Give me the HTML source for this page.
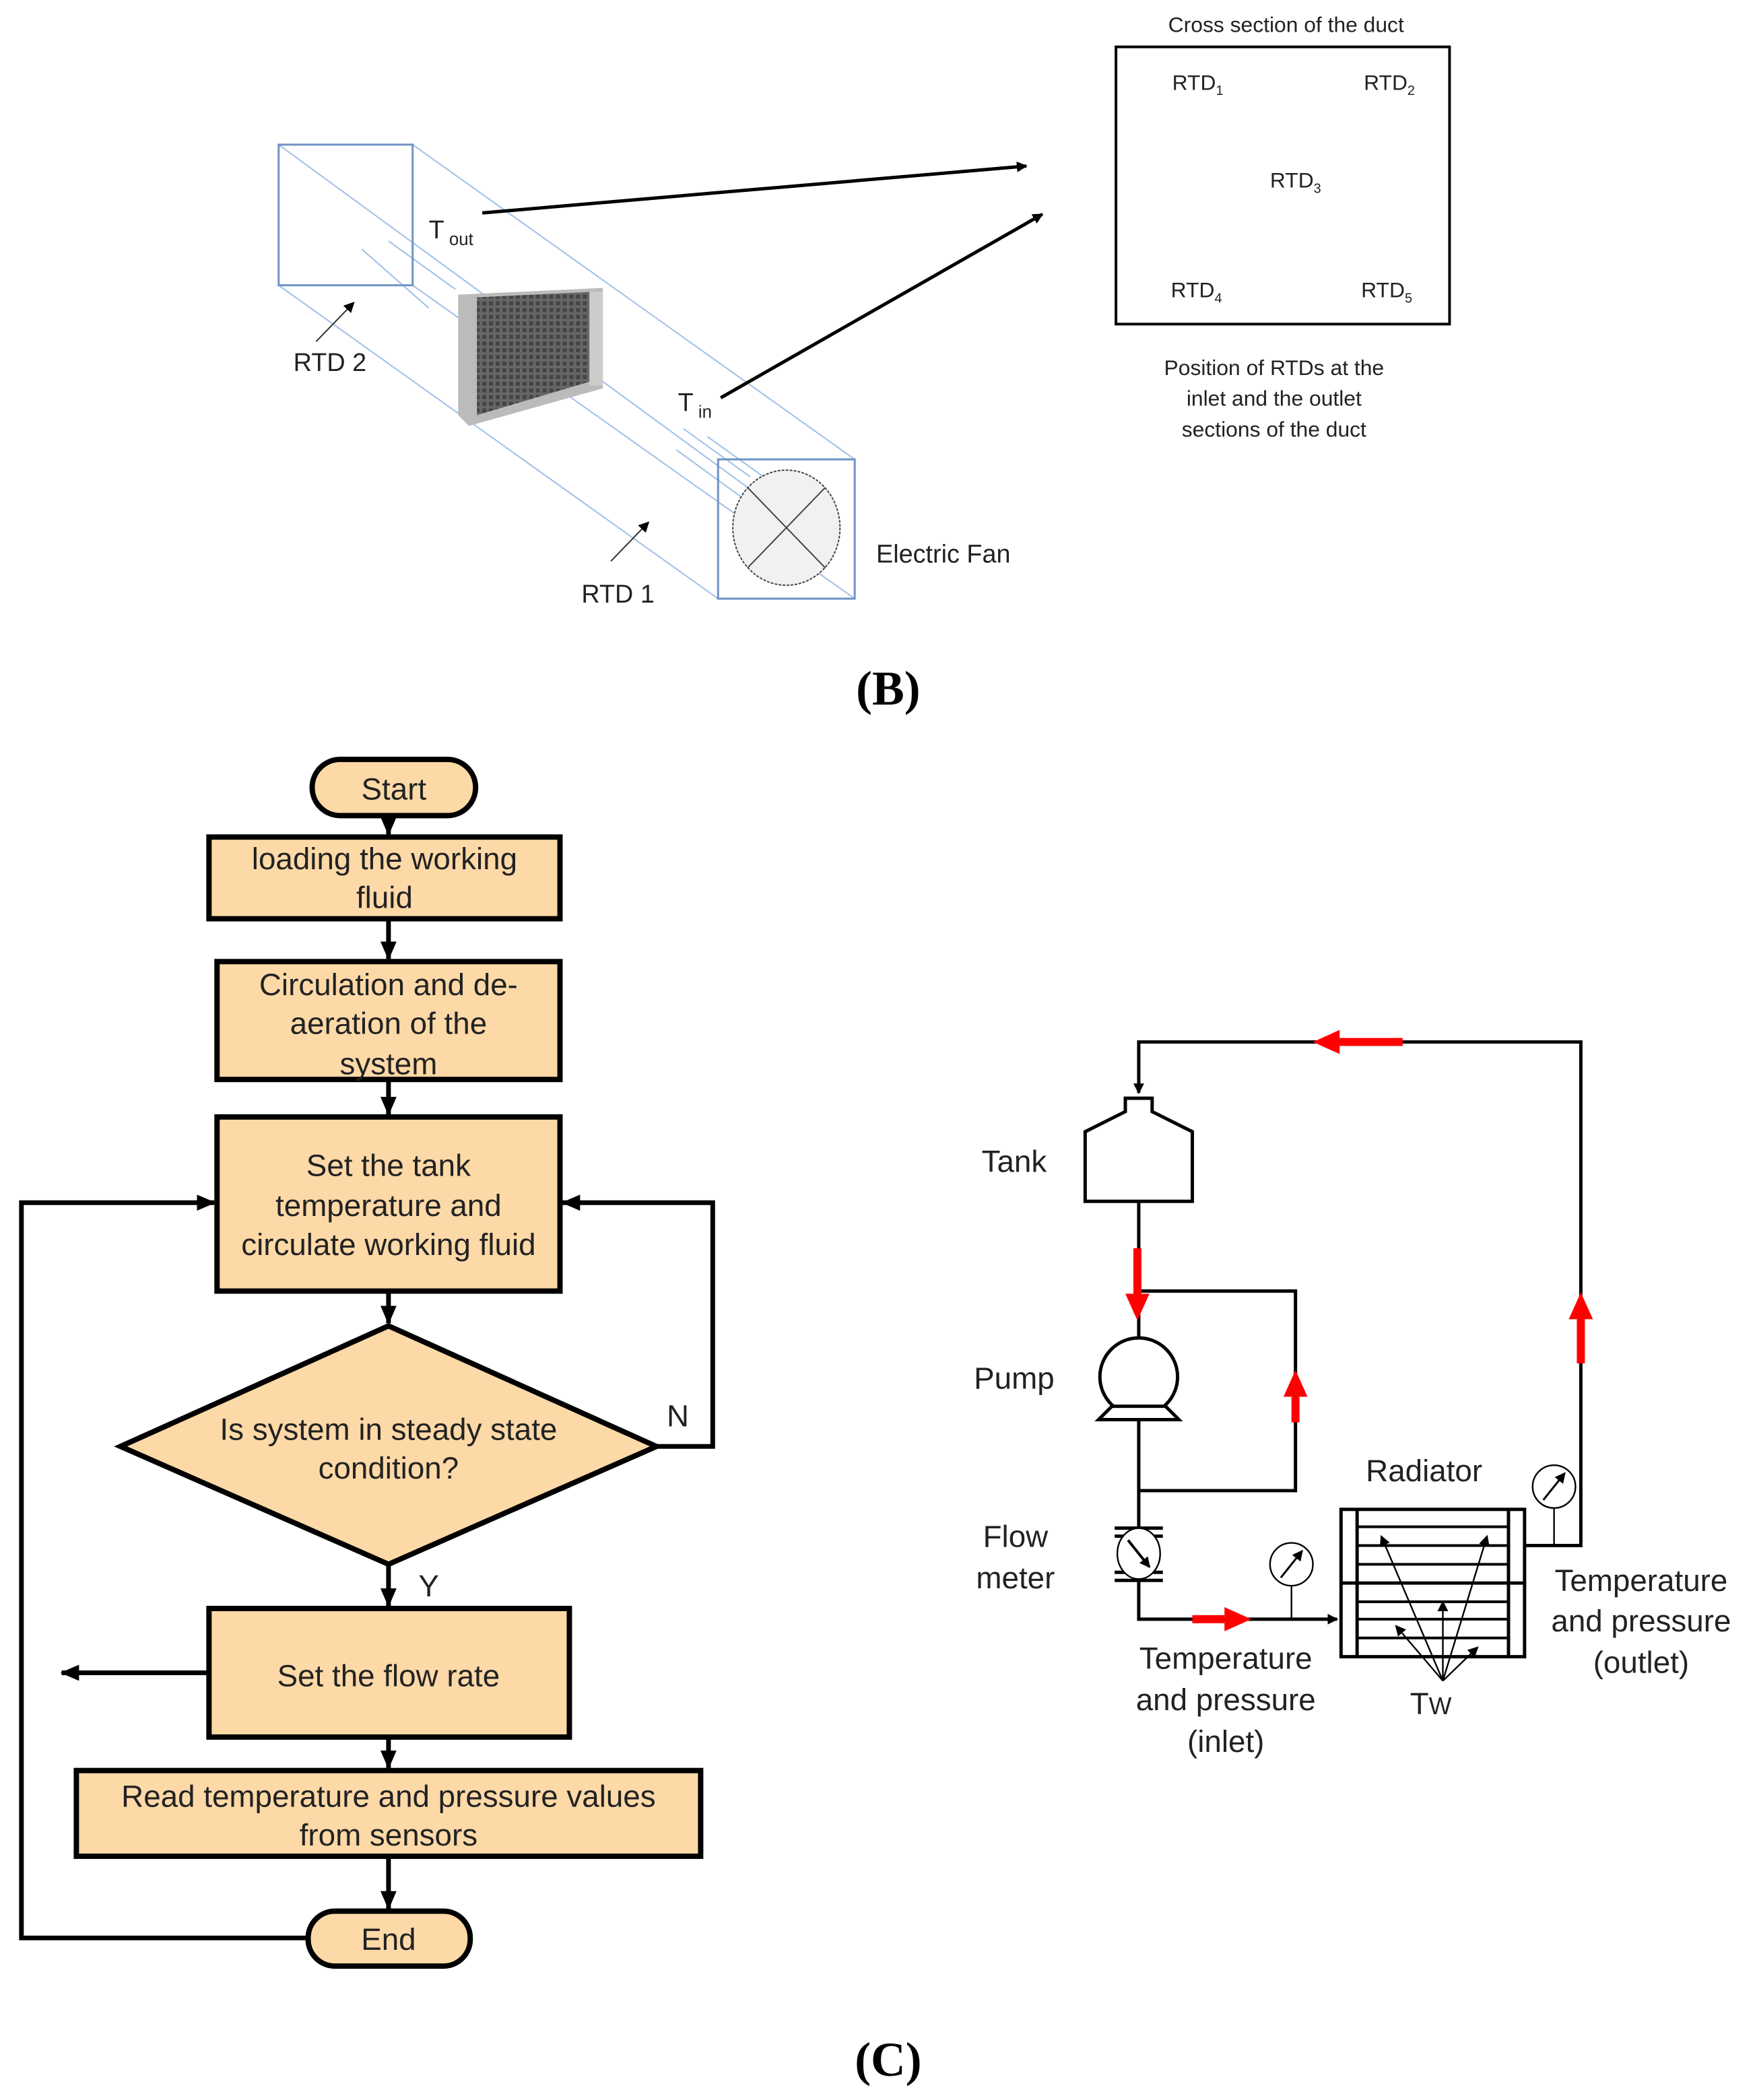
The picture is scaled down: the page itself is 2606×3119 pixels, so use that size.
<!DOCTYPE html>
<html><head><meta charset="utf-8"><style>
html,body{margin:0;padding:0;background:#fff;}
svg{display:block;}
.a{font-family:"Liberation Sans",sans-serif;font-size:23px;fill:#222;}
.c{font-family:"Liberation Sans",sans-serif;font-size:16px;fill:#222;}
</style></head><body>
<svg width="2606" height="3119" viewBox="0 0 1310 1568" preserveAspectRatio="none" xmlns="http://www.w3.org/2000/svg">
<defs>
<marker id="ab" markerWidth="8" markerHeight="8" refX="7" refY="4" orient="auto" markerUnits="userSpaceOnUse"><path d="M0,0 L8,4 L0,8 z" fill="#000"/></marker>
<marker id="abig" markerWidth="14" markerHeight="12" refX="13" refY="6" orient="auto" markerUnits="userSpaceOnUse"><path d="M0,0 L14,6 L0,12 z" fill="#000"/></marker>
<marker id="ar" markerWidth="20" markerHeight="18" refX="0" refY="9" orient="auto" markerUnits="userSpaceOnUse"><path d="M0,0 L20,9 L0,18 z" fill="#f00"/></marker>
<pattern id="fin" width="5" height="5" patternUnits="userSpaceOnUse"><rect width="5" height="5" fill="#666"/><rect width="3" height="3" fill="#444"/></pattern>
</defs>
<!-- (B) -->
<text x="960" y="24" text-anchor="middle" class="c">Cross section of the duct</text>
<rect x="833" y="35" width="249" height="207" fill="none" stroke="#000" stroke-width="2"/>
<text x="875" y="67" class="c">RTD<tspan font-size="10" dy="4">1</tspan></text>
<text x="1018" y="67" class="c">RTD<tspan font-size="10" dy="4">2</tspan></text>
<text x="948" y="140" class="c">RTD<tspan font-size="10" dy="4">3</tspan></text>
<text x="874" y="222" class="c">RTD<tspan font-size="10" dy="4">4</tspan></text>
<text x="1016" y="222" class="c">RTD<tspan font-size="10" dy="4">5</tspan></text>
<text x="951" y="280" text-anchor="middle" class="c">Position of RTDs at the</text>
<text x="951" y="303" text-anchor="middle" class="c">inlet and the outlet</text>
<text x="951" y="326" text-anchor="middle" class="c">sections of the duct</text>
<g stroke="#9fc0e6" stroke-width="1" fill="none">
<line x1="308" y1="108" x2="638" y2="343"/>
<line x1="208" y1="213" x2="536" y2="447"/>
<line x1="208" y1="108" x2="580" y2="380"/>
<line x1="308" y1="213" x2="638" y2="447"/>
<line x1="270" y1="186" x2="320" y2="230"/>
<line x1="290" y1="180" x2="340" y2="216"/>
<line x1="505" y1="336" x2="560" y2="376"/>
<line x1="510" y1="320" x2="560" y2="356"/>
<line x1="528" y1="326" x2="570" y2="356"/>
</g>
<rect x="208" y="108" width="100" height="105" fill="none" stroke="#6f93c4" stroke-width="1.5"/>
<rect x="536" y="343" width="102" height="104" fill="none" stroke="#6f93c4" stroke-width="1.5"/>
<ellipse cx="587" cy="394" rx="40" ry="43" fill="#f1f1f1" stroke="#444" stroke-dasharray="2,1"/>
<line x1="558" y1="364" x2="616" y2="424" stroke="#444"/>
<line x1="616" y1="364" x2="558" y2="424" stroke="#444"/>
<polygon points="342,220 450,215 450,290 350,318 342,310" fill="#bbb"/>
<polygon points="356,222 440,218 440,285 356,310" fill="url(#fin)"/>
<rect x="440" y="218" width="10" height="70" fill="#ccc"/>
<line x1="360" y1="159" x2="766" y2="124" stroke="#000" stroke-width="2.5" marker-end="url(#ab)"/>
<line x1="538" y1="297" x2="778" y2="160" stroke="#000" stroke-width="2.5" marker-end="url(#ab)"/>
<line x1="236" y1="255" x2="264" y2="226" stroke="#333" marker-end="url(#ab)"/>
<line x1="456" y1="419" x2="484" y2="390" stroke="#333" marker-end="url(#ab)"/>
<g font-family="Liberation Sans Narrow, Liberation Sans, sans-serif" font-size="19" fill="#222">
<text x="320" y="178">T<tspan font-size="13" dy="5"> out</tspan></text>
<text x="219" y="277">RTD 2</text>
<text x="506" y="307">T<tspan font-size="13" dy="5"> in</tspan></text>
<text x="434" y="450">RTD 1</text>
<text x="654" y="420">Electric Fan</text>
</g>
<text x="663" y="526" text-anchor="middle" font-family="Liberation Serif, serif" font-weight="bold" font-size="36">(B)</text>
<text x="663" y="1550" text-anchor="middle" font-family="Liberation Serif, serif" font-weight="bold" font-size="36">(C)</text>
<!-- Flowchart -->
<g stroke="#000" stroke-width="4" fill="#fdd9a7">
<rect x="233" y="567" width="122" height="42" rx="21"/>
<rect x="156" y="625" width="262" height="61"/>
<rect x="162" y="718" width="256" height="88"/>
<rect x="162" y="834" width="256" height="130"/>
<polygon points="90,1080 290,990 490,1080 290,1168"/>
<rect x="156" y="1201" width="269" height="96"/>
<rect x="57" y="1322" width="466" height="64"/>
<rect x="230" y="1427" width="121" height="41" rx="20"/>
</g>
<g stroke="#000" stroke-width="3.5" fill="none">
<line x1="290" y1="609" x2="290" y2="623" marker-end="url(#abig)"/>
<line x1="290" y1="686" x2="290" y2="716" marker-end="url(#abig)"/>
<line x1="290" y1="806" x2="290" y2="832" marker-end="url(#abig)"/>
<line x1="290" y1="964" x2="290" y2="988" marker-end="url(#abig)"/>
<line x1="290" y1="1168" x2="290" y2="1199" marker-end="url(#abig)"/>
<line x1="290" y1="1297" x2="290" y2="1320" marker-end="url(#abig)"/>
<line x1="290" y1="1386" x2="290" y2="1425" marker-end="url(#abig)"/>
<polyline points="490,1080 532,1080 532,898 420,898" marker-end="url(#abig)"/>
<polyline points="230,1447 16,1447 16,898 160,898" marker-end="url(#abig)"/>
<line x1="156" y1="1249" x2="46" y2="1249" marker-end="url(#abig)"/>
</g>
<g class="a" text-anchor="middle">
<text x="294" y="597">Start</text>
<text x="287" y="649">loading the working</text>
<text x="287" y="678">fluid</text>
<text x="290" y="743">Circulation and de-</text>
<text x="290" y="772">aeration of the</text>
<text x="290" y="802">system</text>
<text x="290" y="878">Set the tank</text>
<text x="290" y="908">temperature and</text>
<text x="290" y="937">circulate working fluid</text>
<text x="290" y="1075">Is system in  steady state</text>
<text x="290" y="1104">condition?</text>
<text x="506" y="1065">N</text>
<text x="320" y="1192">Y</text>
<text x="290" y="1259">Set the flow rate</text>
<text x="290" y="1349">Read temperature and pressure values</text>
<text x="290" y="1378">from sensors</text>
<text x="290" y="1456">End</text>
</g>
<!-- Right circuit -->
<g stroke="#000" stroke-width="2.5" fill="none">
<polyline points="1138,1154 1180,1154 1180,778 850,778 850,816" marker-end="url(#ab)"/>
<polygon points="840,820 860,820 860,830 890,845 890,897 810,897 810,845 840,830" fill="#fff"/>
<line x1="850" y1="897" x2="850" y2="999"/>
<polyline points="850,964 967,964 967,1113 850,1113"/>
<circle cx="850" cy="1028" r="29" fill="#fff"/>
<polygon points="830,1050 870,1050 880,1060 820,1060" fill="#fff"/>
<line x1="850" y1="1060" x2="850" y2="1140"/>
<line x1="832" y1="1141" x2="868" y2="1141"/><line x1="832" y1="1147" x2="868" y2="1147"/>
<line x1="832" y1="1174" x2="868" y2="1174"/><line x1="832" y1="1180" x2="868" y2="1180"/>
<line x1="850" y1="1147" x2="850" y2="1174"/>
<polyline points="850,1180 850,1209 998,1209" marker-end="url(#ab)"/>
<rect x="1001" y="1127" width="137" height="110"/>
<line x1="1013" y1="1127" x2="1013" y2="1237"/><line x1="1126" y1="1127" x2="1126" y2="1237"/>
<line x1="1001" y1="1182" x2="1138" y2="1182"/>
</g>
<g stroke="#000" stroke-width="2">
<line x1="1013" y1="1140" x2="1126" y2="1140"/><line x1="1013" y1="1154" x2="1126" y2="1154"/>
<line x1="1013" y1="1168" x2="1126" y2="1168"/><line x1="1013" y1="1196" x2="1126" y2="1196"/>
<line x1="1013" y1="1209" x2="1126" y2="1209"/><line x1="1013" y1="1223" x2="1126" y2="1223"/>
</g>
<ellipse cx="850" cy="1160" rx="16" ry="19" fill="#fff" stroke="#000" stroke-width="1.2"/>
<line x1="842" y1="1150" x2="858" y2="1170" stroke="#000" stroke-width="2" marker-end="url(#ab)"/>
<g stroke="#000" stroke-width="1.2" fill="#fff">
<line x1="964" y1="1184" x2="964" y2="1209"/>
<ellipse cx="964" cy="1168" rx="16" ry="16"/>
<line x1="1160" y1="1126" x2="1160" y2="1154"/>
<ellipse cx="1160" cy="1110" rx="16" ry="16"/>
</g>
<line x1="956" y1="1178" x2="972" y2="1158" stroke="#000" stroke-width="1.5" marker-end="url(#ab)"/>
<line x1="1152" y1="1120" x2="1168" y2="1100" stroke="#000" stroke-width="1.5" marker-end="url(#ab)"/>
<g stroke="#000" stroke-width="1.2">
<line x1="1077" y1="1255" x2="1031" y2="1147" marker-end="url(#ab)"/>
<line x1="1077" y1="1255" x2="1110" y2="1147" marker-end="url(#ab)"/>
<line x1="1077" y1="1255" x2="1077" y2="1196" marker-end="url(#ab)"/>
<line x1="1077" y1="1255" x2="1042" y2="1214" marker-end="url(#ab)"/>
<line x1="1077" y1="1255" x2="1103" y2="1230" marker-end="url(#ab)"/>
</g>
<g stroke="#f00" stroke-width="6">
<line x1="1047" y1="778" x2="1000" y2="778" marker-end="url(#ar)"/>
<line x1="849" y1="932" x2="849" y2="966" marker-end="url(#ar)"/>
<line x1="967" y1="1062" x2="967" y2="1043" marker-end="url(#ar)"/>
<line x1="1180" y1="1018" x2="1180" y2="985" marker-end="url(#ar)"/>
<line x1="890" y1="1209" x2="914" y2="1209" marker-end="url(#ar)"/>
</g>
<g class="a" text-anchor="middle">
<text x="757" y="875">Tank</text>
<text x="757" y="1037">Pump</text>
<text x="758" y="1155">Flow</text>
<text x="758" y="1186">meter</text>
<text x="1063" y="1106">Radiator</text>
<text x="915" y="1246">Temperature</text>
<text x="915" y="1277">and pressure</text>
<text x="915" y="1308">(inlet)</text>
<text x="1225" y="1188">Temperature</text>
<text x="1225" y="1218">and pressure</text>
<text x="1225" y="1249">(outlet)</text>
<text x="1068" y="1280">T<tspan font-size="18">W</tspan></text>
</g>
</svg>
</body></html>
